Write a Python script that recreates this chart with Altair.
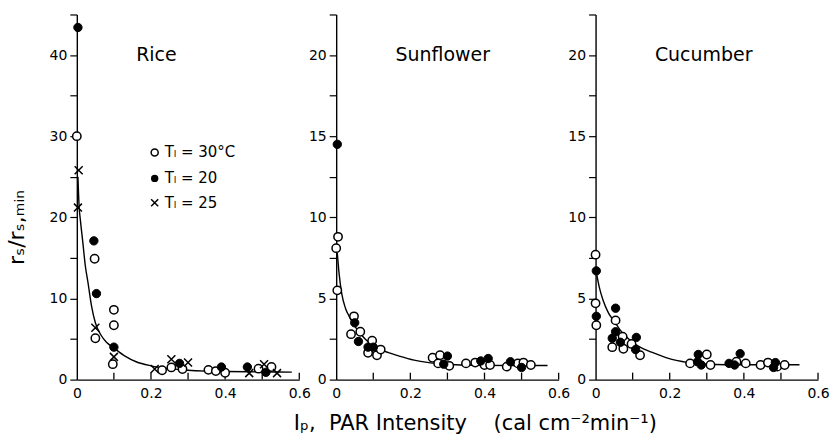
import altair as alt
import pandas as pd

# ---------------- data ----------------
panels = ["Rice", "Sunflower", "Cucumber"]

rice_open_x = [0.0, 0.048, 0.05, 0.1, 0.1, 0.097, 0.23, 0.255, 0.285, 0.355, 0.375, 0.40, 0.49, 0.525]
rice_open_y = [30.0, 14.9, 5.1, 8.6, 6.7, 1.9, 1.15, 1.5, 1.3, 1.2, 1.05, 0.85, 1.35, 1.55]
rice_filled_x = [0.003, 0.046, 0.053, 0.1, 0.277, 0.39, 0.46, 0.51]
rice_filled_y = [43.4, 17.1, 10.6, 4.0, 2.0, 1.55, 1.55, 0.9]
rice_cross_x = [0.005, 0.003, 0.05, 0.1, 0.21, 0.255, 0.30, 0.465, 0.505, 0.54]
rice_cross_y = [25.8, 21.2, 6.4, 2.8, 1.3, 2.5, 2.1, 0.8, 1.9, 0.8]
rice_curve_x = [0.003, 0.006, 0.01, 0.016, 0.023, 0.03, 0.04, 0.05, 0.065, 0.08, 0.1, 0.13, 0.16, 0.2, 0.25, 0.3, 0.35, 0.4, 0.5, 0.58]
rice_curve_y = [25.0, 21.5, 19.5, 17.0, 14.0, 12.0, 9.0, 7.0, 5.5, 4.6, 3.9, 2.9, 2.2, 1.7, 1.35, 1.15, 1.05, 1.0, 0.95, 0.92]

sun_open_x = [0.005, 0.0, 0.003, 0.048, 0.04, 0.065, 0.097, 0.086, 0.11, 0.12, 0.26, 0.28, 0.275, 0.305, 0.35, 0.375, 0.40, 0.415, 0.46, 0.49, 0.505, 0.525]
sun_open_y = [8.8, 8.1, 5.5, 3.9, 2.8, 2.95, 2.4, 1.65, 1.5, 1.85, 1.35, 1.5, 1.0, 0.85, 1.0, 1.05, 0.9, 0.9, 0.8, 1.0, 1.05, 0.9]
sun_filled_x = [0.003, 0.05, 0.06, 0.086, 0.1, 0.30, 0.29, 0.39, 0.41, 0.47, 0.50]
sun_filled_y = [14.5, 3.5, 2.35, 2.0, 2.0, 1.45, 0.95, 1.15, 1.3, 1.1, 0.75]
sun_curve_x = [0.003, 0.008, 0.015, 0.025, 0.035, 0.05, 0.065, 0.08, 0.1, 0.13, 0.17, 0.21, 0.25, 0.3, 0.35, 0.4, 0.5, 0.57]
sun_curve_y = [7.8, 6.5, 5.3, 4.4, 3.9, 3.3, 2.85, 2.45, 2.1, 1.75, 1.45, 1.2, 1.05, 0.95, 0.9, 0.88, 0.87, 0.87]

cuc_open_x = [0.0, 0.0, 0.002, 0.054, 0.045, 0.073, 0.075, 0.097, 0.12, 0.255, 0.30, 0.31, 0.38, 0.405, 0.445, 0.465, 0.49, 0.51]
cuc_open_y = [7.7, 4.7, 3.35, 3.65, 2.0, 2.65, 1.9, 2.2, 1.5, 1.0, 1.55, 0.9, 1.1, 1.0, 0.9, 1.05, 0.8, 0.9]
cuc_filled_x = [0.002, 0.002, 0.054, 0.054, 0.045, 0.067, 0.11, 0.108, 0.277, 0.275, 0.285, 0.36, 0.375, 0.39, 0.485, 0.48]
cuc_filled_y = [6.7, 3.9, 4.4, 2.95, 2.55, 2.3, 2.6, 1.85, 1.55, 1.1, 0.9, 1.0, 0.9, 1.6, 1.05, 0.75]
cuc_curve_x = [0.003, 0.01, 0.02, 0.035, 0.05, 0.065, 0.08, 0.1, 0.12, 0.15, 0.19, 0.25, 0.3, 0.35, 0.4, 0.5, 0.55]
cuc_curve_y = [6.5, 5.7, 4.9, 4.1, 3.6, 3.1, 2.7, 2.3, 2.0, 1.7, 1.35, 1.05, 0.95, 0.92, 0.92, 0.92, 0.92]

legend_labels = ["T\u2097 = 30\u00b0C", "T\u2097 = 20", "T\u2097 = 25"]

x_tick_values = [0, 0.1, 0.2, 0.3, 0.4, 0.5, 0.6]
rice_y_ticks = [0, 5, 10, 15, 20, 25, 30, 35, 40, 45]
other_y_ticks = [0, 2.5, 5, 7.5, 10, 12.5, 15, 17.5, 20, 22.5]

y_title_text = "r\u209b/r\u209b,\u2098\u1d62\u2099"
x_title_text = "I\u209a,\u00a0\u00a0PAR\u00a0Intensity\u00a0\u00a0\u00a0\u00a0(cal\u00a0cm\u207b\u00b2min\u207b\u00b9)"

# ---------------- styling ----------------
W, H = 223, 366
FONT = "DejaVu Sans"
CROSS = "M-1,-1L1,1M1,-1L-1,1"


def df(xs, ys):
    return pd.DataFrame({"x": xs, "y": ys})


def make_panel(name, ymax, yticks, ylab_step, open_xy, filled_xy, cross_xy, curve_xy,
               title_y, ytitle=None, xtitle=None, legend=False):
    xenc_axis = dict(
        values=x_tick_values, ticks=False, grid=False, domainColor="black",
        domainWidth=1.4, labelFont=FONT, labelFontSize=14, labelColor="black",
        labelPadding=7, labelFlush=False, labelOverlap=False,
        labelExpr="datum.value == 0 ? '0' : (round(datum.value*10) % 2 == 0 ? format(datum.value, '.1f') : '')",
    )
    if xtitle:
        xenc_axis.update(title=xtitle, titleFont=FONT, titleFontSize=21, titleFontWeight="normal",
                         titleColor="black", titleX=139, titleY=50, titleAlign="center",
                         titleBaseline="alphabetic")
    else:
        xenc_axis.update(title=None)
    yenc_axis = dict(
        values=yticks, grid=False, domainColor="black", domainWidth=1.4,
        tickColor="black", tickWidth=1.2, tickSize=7, labelFont=FONT, labelFontSize=14,
        labelColor="black", labelPadding=3, labelOverlap=False, labelFlush=False,
        labelExpr=f"datum.value % {ylab_step} == 0 ? datum.label : ''",
    )
    if ytitle:
        yenc_axis.update(title=ytitle, titleFont=FONT, titleFontSize=22, titleFontWeight="normal",
                         titleColor="black", titleX=-60, titleY=213, titleAlign="center",
                         titleBaseline="middle", titleAngle=270)
    else:
        yenc_axis.update(title=None)

    xs = alt.Scale(domain=[0, 0.6], nice=False, zero=False)
    ys = alt.Scale(domain=[0, ymax], nice=False)
    X = alt.X("x:Q", scale=xs, axis=alt.Axis(**xenc_axis))
    Y = alt.Y("y:Q", scale=ys, axis=alt.Axis(**yenc_axis))

    curve = alt.Chart(df(*curve_xy)).mark_line(color="black", strokeWidth=1.4,
                                               interpolate="monotone").encode(x=X, y=Y)
    ticks = alt.Chart(pd.DataFrame({"x": x_tick_values[1:]})).mark_rule(
        color="black", strokeWidth=1.3).encode(
        x=alt.X("x:Q", scale=xs), y=alt.value(H), y2=alt.value(H - 7))
    layers = [curve, ticks]
    layers.append(alt.Chart(df(*open_xy)).mark_point(
        shape="circle", size=70, filled=True, fill="white", stroke="black",
        strokeWidth=1.5, opacity=1).encode(x=X, y=Y))
    layers.append(alt.Chart(df(*filled_xy)).mark_point(
        shape="circle", size=70, filled=True, fill="black", stroke="black",
        strokeWidth=1, opacity=1).encode(x=X, y=Y))
    if cross_xy is not None:
        layers.append(alt.Chart(df(*cross_xy)).mark_point(
            shape=CROSS, size=64, filled=False, stroke="black", strokeWidth=1.5,
            opacity=1).encode(x=X, y=Y))
    layers.append(alt.Chart(pd.DataFrame({"x": [0.16], "y": [title_y], "t": [name]})).mark_text(
        font=FONT, fontSize=19, align="left", baseline="middle", color="black").encode(
        x=X, y=Y, text="t:N"))
    if legend:
        lx, tx = 0.21, 0.237
        ly = [28.0, 24.8, 21.8]
        layers.append(alt.Chart(df([lx], [ly[0]])).mark_point(
            shape="circle", size=50, filled=True, fill="white", stroke="black",
            strokeWidth=1.5, opacity=1).encode(x=X, y=Y))
        layers.append(alt.Chart(df([lx], [ly[1]])).mark_point(
            shape="circle", size=55, filled=True, fill="black", opacity=1).encode(x=X, y=Y))
        layers.append(alt.Chart(df([lx], [ly[2]])).mark_point(
            shape=CROSS, size=50, filled=False, stroke="black", strokeWidth=1.5,
            opacity=1).encode(x=X, y=Y))
        layers.append(alt.Chart(pd.DataFrame({"x": [tx] * 3, "y": ly, "t": legend_labels})).mark_text(
            font=FONT, fontSize=15, align="left", baseline="middle", color="black").encode(
            x=X, y=Y, text="t:N"))
    return alt.layer(*layers).properties(width=W, height=H)


rice = make_panel("Rice", 45, rice_y_ticks, 10,
                  (rice_open_x, rice_open_y), (rice_filled_x, rice_filled_y),
                  (rice_cross_x, rice_cross_y), (rice_curve_x, rice_curve_y),
                  40, ytitle=y_title_text, legend=True)
sun = make_panel("Sunflower", 22.5, other_y_ticks, 5,
                 (sun_open_x, sun_open_y), (sun_filled_x, sun_filled_y), None,
                 (sun_curve_x, sun_curve_y), 20, xtitle=x_title_text)
cuc = make_panel("Cucumber", 22.5, other_y_ticks, 5,
                 (cuc_open_x, cuc_open_y), (cuc_filled_x, cuc_filled_y), None,
                 (cuc_curve_x, cuc_curve_y), 20)

chart = alt.hconcat(rice, sun, cuc, spacing=37, bounds="flush").configure_view(
    stroke=None).properties(padding={"left": 6, "top": 7, "right": 0, "bottom": 0},
                            background="white")

chart.save("out.html", embed_options={"renderer": "svg", "actions": False})
